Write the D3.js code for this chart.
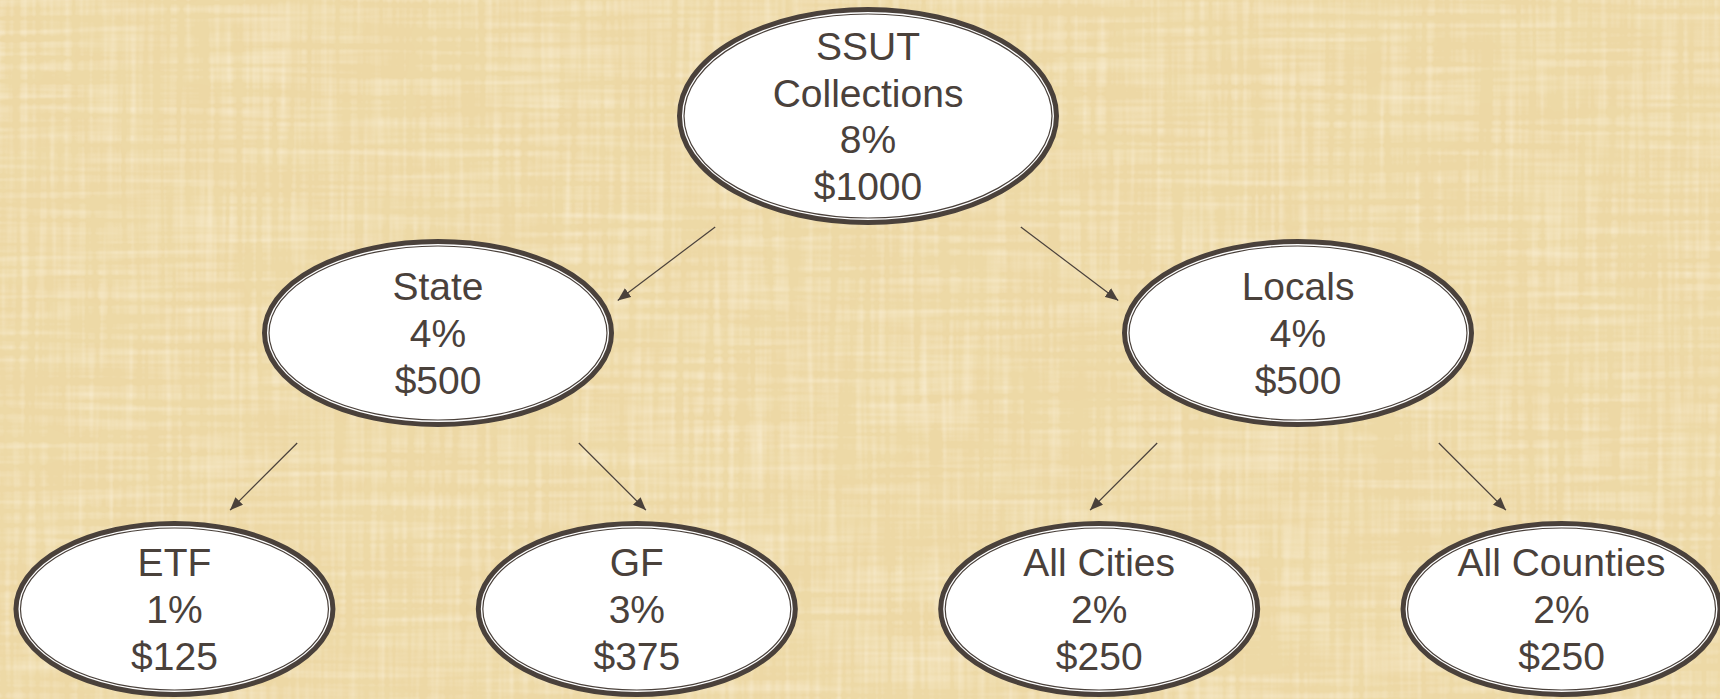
<!DOCTYPE html>
<html>
<head>
<meta charset="utf-8">
<script src="https://cdn.jsdelivr.net/npm/d3@7"></script>
<style>
  body { margin: 0; background: #ecd6a2; }
  svg { display: block; }
</style>
</head>
<body>
<div id="visualContainer"></div>
<script>

// the split of the sales tax, top to bottom
var nodeIds   = ["ssut", "state", "locals", "etf", "gf", "cities", "counties"];
var parentIds = [null, "ssut", "ssut", "state", "state", "locals", "locals"];
var labels    = ["SSUT\nCollections", "State", "Locals", "ETF", "GF", "All Cities", "All Counties"];
var ratePct   = [8, 4, 4, 1, 3, 2, 2];
var dollars   = [1000, 500, 500, 125, 375, 250, 250];

var width = 1720, height = 699;
var ink = "#4a413b";

var rows = nodeIds.map(function(id, i) {
  return {id: id, parent: parentIds[i], label: labels[i], rate: ratePct[i], amount: dollars[i]};
});

var root = d3.stratify()
  .id(function(d) { return d.id; })
  .parentId(function(d) { return d.parent; })(rows);

var nodes = root.descendants();

// one point scale per level of the tree
var xByDepth = [0, 1, 2].map(function(depth) {
  return d3.scalePoint()
    .domain(nodes.filter(function(n) { return n.depth === depth; }).map(function(n) { return n.id; }))
    .range([8, width + 8])
    .padding(depth === 2 ? 0.36 : 0.5);
});
var rowY = d3.scaleLinear().domain([0, 1, 2]).range([116, 333, 609]);
var rx = d3.scaleOrdinal().domain([0, 1, 2]).range([191, 176, 161]);
var ry = d3.scaleOrdinal().domain([0, 1, 2]).range([109, 94, 88]);

nodes.forEach(function(n) {
  n.x = xByDepth[n.depth](n.id);
  n.y = rowY(n.depth);
});

var svgCanvas = d3.select("#visualContainer")
  .append("svg")
  .attr("width", width)
  .attr("height", height);

var defs = svgCanvas.append("defs");

// papyrus-like background
var grain = defs.append("filter").attr("id", "grain")
  .attr("filterUnits", "userSpaceOnUse")
  .attr("x", 0).attr("y", 0).attr("width", width).attr("height", height);
grain.append("feTurbulence").attr("type", "fractalNoise")
  .attr("baseFrequency", "0.14 0.006").attr("numOctaves", 2).attr("seed", 4).attr("result", "n1");
grain.append("feTurbulence").attr("type", "fractalNoise")
  .attr("baseFrequency", "0.006 0.14").attr("numOctaves", 2).attr("seed", 11).attr("result", "n2");
grain.append("feComposite").attr("in", "n1").attr("in2", "n2")
  .attr("operator", "arithmetic").attr("k2", 0.5).attr("k3", 0.5).attr("result", "n");
grain.append("feColorMatrix").attr("in", "n").attr("type", "matrix")
  .attr("values", "0 0 0 0 0.98  0 0 0 0 0.91  0 0 0 0 0.76  1.5 0 0 0 -0.64");

var grainDark = defs.append("filter").attr("id", "grainDark")
  .attr("filterUnits", "userSpaceOnUse")
  .attr("x", 0).attr("y", 0).attr("width", width).attr("height", height);
grainDark.append("feTurbulence").attr("type", "fractalNoise")
  .attr("baseFrequency", "0.012 0.02").attr("numOctaves", 2).attr("seed", 21).attr("result", "n");
grainDark.append("feComponentTransfer").attr("in", "n").attr("result", "steps")
  .append("feFuncR").attr("type", "discrete").attr("tableValues", "0 0.3 0.5 0.6 0.8 1");
grainDark.append("feColorMatrix").attr("in", "steps").attr("type", "matrix")
  .attr("values", "0 0 0 0 0.86  0 0 0 0 0.74  0 0 0 0 0.42  -0.45 0 0 0 0.3");

svgCanvas.append("rect").attr("width", width).attr("height", height).attr("fill", "#edd8a5");
svgCanvas.append("rect").attr("width", width).attr("height", height).attr("filter", "url(#grainDark)");
svgCanvas.append("rect").attr("width", width).attr("height", height).attr("filter", "url(#grain)");

defs.append("marker")
  .attr("id", "head")
  .attr("markerUnits", "userSpaceOnUse")
  .attr("viewBox", "0 0 12 10")
  .attr("refX", 12).attr("refY", 5)
  .attr("markerWidth", 13).attr("markerHeight", 11)
  .attr("orient", "auto")
  .append("path")
    .attr("d", "M0,0 L12,5 L0,10 Z")
    .attr("fill", ink);

// short arrows between the ovals
var arrows = svgCanvas.selectAll("line.arrow")
  .data(root.links())
  .enter()
    .append("line")
      .attr("class", "arrow")
      .each(function(l) {
        var s = l.target.x < l.source.x ? -1 : 1;
        var angle = (l.source.depth === 0 ? 37 : 45) * Math.PI / 180;
        var len = l.source.depth === 0 ? 122 : 95;
        l.x1 = l.source.x + s * 0.8 * rx(l.source.depth);
        l.y1 = l.source.y + ry(l.source.depth) + (l.source.depth === 0 ? 2 : 16);
        l.x2 = l.x1 + s * len * Math.cos(angle);
        l.y2 = l.y1 + len * Math.sin(angle);
      })
      .attr("x1", function(l) { return l.x1; })
      .attr("y1", function(l) { return l.y1; })
      .attr("x2", function(l) { return l.x2; })
      .attr("y2", function(l) { return l.y2; })
      .attr("stroke", ink)
      .attr("stroke-width", 1.2)
      .attr("marker-end", "url(#head)");

var bubbles = svgCanvas.selectAll("g.node")
  .data(nodes)
  .enter()
    .append("g")
      .attr("class", "node")
      .attr("transform", function(n) { return "translate(" + n.x + "," + n.y + ")"; });

bubbles.append("ellipse")
  .attr("rx", function(n) { return rx(n.depth) - 2.5; })
  .attr("ry", function(n) { return ry(n.depth) - 2.5; })
  .attr("fill", "#ffffff")
  .attr("stroke", ink)
  .attr("stroke-width", 5);

bubbles.append("ellipse")
  .attr("rx", function(n) { return rx(n.depth) - 7; })
  .attr("ry", function(n) { return ry(n.depth) - 7; })
  .attr("fill", "none")
  .attr("stroke", ink)
  .attr("stroke-width", 1.2);

var lineH = 46.7;
bubbles.append("text")
  .attr("text-anchor", "middle")
  .attr("font-family", "'Liberation Sans', Arial, sans-serif")
  .attr("font-size", 39)
  .attr("fill", ink)
  .each(function(n) {
    var lines = n.data.label.split("\n").concat([n.data.rate + "%", "$" + n.data.amount]);
    var t = d3.select(this);
    lines.forEach(function(txt, i) {
      t.append("tspan")
        .attr("x", 0)
        .attr("y", (i - (lines.length - 1) / 2) * lineH + 14)
        .text(txt);
    });
  });

</script>
</body>
</html>
